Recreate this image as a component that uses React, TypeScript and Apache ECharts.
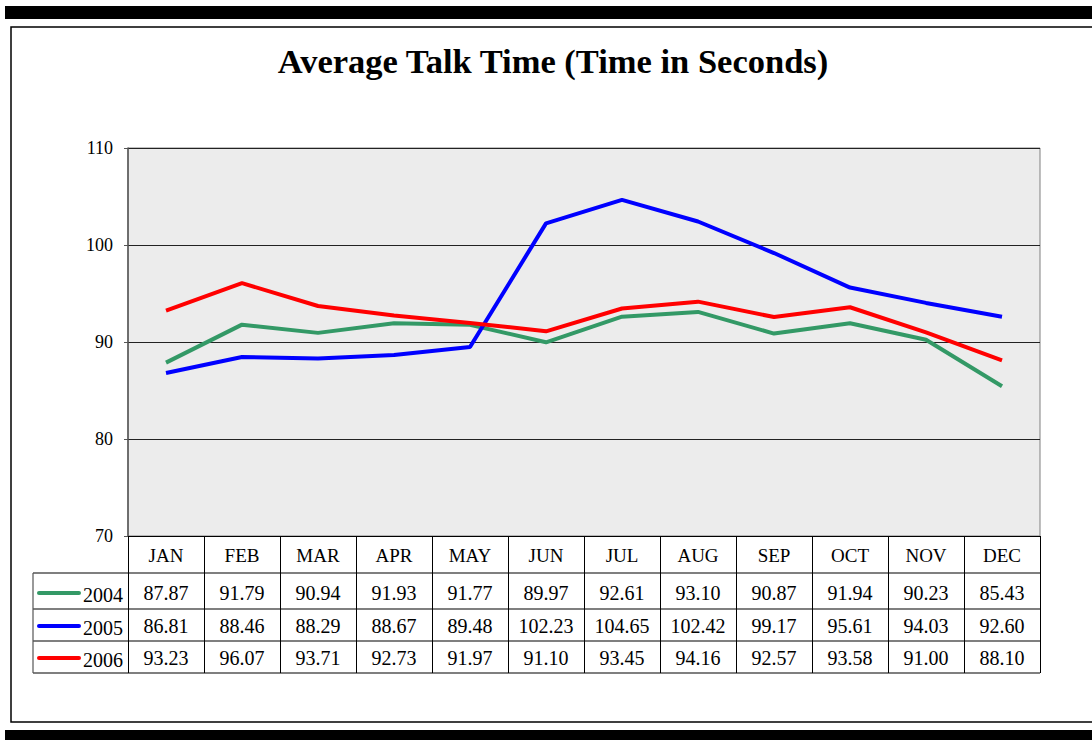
import React, { useEffect, useRef } from "react";
import * as echarts from "echarts";

const months = ["JAN", "FEB", "MAR", "APR", "MAY", "JUN", "JUL", "AUG", "SEP", "OCT", "NOV", "DEC"];
const years = ["2004", "2005", "2006"];
const s2004 = [87.87, 91.79, 90.94, 91.93, 91.77, 89.97, 92.61, 93.1, 90.87, 91.94, 90.23, 85.43];
const s2005 = [86.81, 88.46, 88.29, 88.67, 89.48, 102.23, 104.65, 102.42, 99.17, 95.61, 94.03, 92.6];
const s2006 = [93.23, 96.07, 93.71, 92.73, 91.97, 91.1, 93.45, 94.16, 92.57, 93.58, 91.0, 88.1];
const colors = ["#339966", "#0000ff", "#ff0000"];
const yMin = 70;
const yMax = 110;
const yStep = 10;
const titleText = "Average Talk Time (Time in Seconds)";

const FONT = "Liberation Serif";

export default function App() {
  const ref = useRef<HTMLDivElement>(null);
  useEffect(() => {
    if (!ref.current) return;
    const chart = echarts.init(ref.current, null, { renderer: "svg" });
    const gridLeft = 128, gridTop = 148, gridW = 912, gridH = 388;
    const rows = [573, 609, 641, 673];
    const seriesData = [s2004, s2005, s2006];
    chart.setOption({
      animation: false,
      backgroundColor: "#ffffff",
      textStyle: { fontFamily: FONT },
      grid: {
        left: gridLeft, top: gridTop, width: gridW, height: gridH,
        show: true, backgroundColor: "#ececec", borderColor: "#808080", borderWidth: 1,
      },
      xAxis: {
        type: "category",
        data: months,
        boundaryGap: true,
        axisLine: { show: true, lineStyle: { color: "#000", width: 1 } },
        axisTick: { show: true, inside: false, length: rows[3] - (gridTop + gridH), lineStyle: { color: "#000", width: 1 } },
        axisLabel: { color: "#000", fontSize: 19, fontFamily: FONT, margin: 10 },
        splitLine: { show: false },
      },
      yAxis: {
        type: "value",
        min: yMin, max: yMax, interval: yStep,
        axisLine: { show: true, lineStyle: { color: "#555", width: 1.5 } },
        axisTick: { show: true, inside: false, length: 4, lineStyle: { color: "#555" } },
        axisLabel: { color: "#000", fontSize: 18, fontFamily: FONT, margin: 15 },
        splitLine: { show: true, lineStyle: { color: "#222", width: 1 } },
      },
      series: [0, 2, 1].map((k) => ({
        name: years[k],
        type: "line",
        data: seriesData[k],
        symbol: "none",
        lineStyle: { color: colors[k], width: 4 },
        z: 3 + k,
      })),
    });

    const rowCenters = [593, 626, 658];
    const graphics: any[] = [];
    graphics.push({ type: "rect", shape: { x: 5, y: 6, width: 1100, height: 13 }, style: { fill: "#000" } });
    graphics.push({ type: "rect", shape: { x: 5, y: 730, width: 1100, height: 12 }, style: { fill: "#000" } });
    graphics.push({ type: "rect", shape: { x: 11, y: 27, width: 1100, height: 695 }, style: { fill: "none", stroke: "#000", lineWidth: 1.5 } });
    graphics.push({
      type: "text", x: 553, y: 61,
      style: { text: titleText, fontFamily: FONT, fontSize: 34.5, fontWeight: "bold", fill: "#000", textAlign: "center", textVerticalAlign: "middle" },
    });
    rows.forEach((y) => {
      graphics.push({ type: "line", shape: { x1: 33, y1: y, x2: gridLeft + gridW, y2: y }, style: { stroke: "#000", lineWidth: 1.2 } });
    });
    graphics.push({ type: "line", shape: { x1: 33, y1: rows[0], x2: 33, y2: rows[3] }, style: { stroke: "#555", lineWidth: 1.2 } });
    years.forEach((yr, r) => {
      const cy = rowCenters[r];
      graphics.push({ type: "line", shape: { x1: 39, y1: cy, x2: 79, y2: cy }, style: { stroke: colors[r], lineWidth: 4, lineCap: "round" } });
      graphics.push({
        type: "text", x: 123, y: cy + 2,
        style: { text: yr, fontFamily: FONT, fontSize: 20, fill: "#000", textAlign: "right", textVerticalAlign: "middle" },
      });
      seriesData[r].forEach((v, i) => {
        const px = chart.convertToPixel({ xAxisIndex: 0 }, i) as number;
        graphics.push({
          type: "text", x: px, y: cy,
          style: { text: v.toFixed(2), fontFamily: FONT, fontSize: 20, fill: "#000", textAlign: "center", textVerticalAlign: "middle" },
        });
      });
    });
    chart.setOption({ graphic: graphics });
    return () => chart.dispose();
  }, []);
  return <div ref={ref} style={{ position: "fixed", left: 0, top: 0, width: 1092, height: 740 }} />;
}
